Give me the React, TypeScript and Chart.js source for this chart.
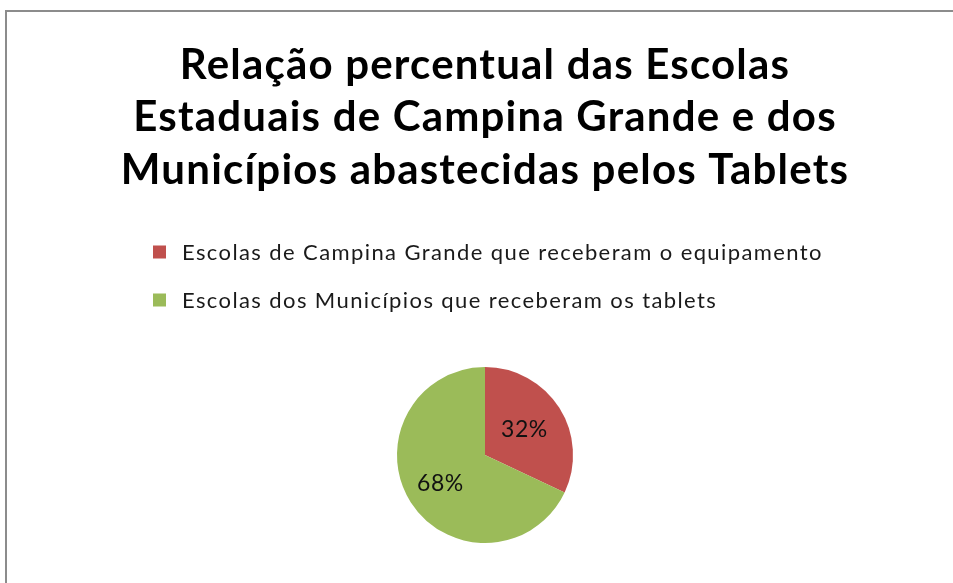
import React, { useEffect, useRef } from "react";
import { Chart, registerables } from "chart.js";

Chart.register(...registerables);

const titleLines = [
  "Relação percentual das Escolas",
  "Estaduais de Campina Grande e dos",
  "Municípios abastecidas pelos Tablets",
];
const categories = [
  "Escolas de Campina Grande que receberam o equipamento",
  "Escolas dos Municípios que receberam os tablets",
];
const percentValues = [32, 68];
const sliceColors = ["#C0504D", "#9BBB59"];
const labelRadiusFraction = [0.53, 0.6];

const FONT = "Lato, 'Open Sans', sans-serif";

const frameAndSpacingPlugin = {
  id: "frameAndSpacing",
  beforeDraw(chart: any) {
    const ctx = chart.ctx;
    ctx.save();
    ctx.fillStyle = "#ffffff";
    ctx.fillRect(0, 0, chart.width, chart.height);
    ctx.fillStyle = "#8c8c8c";
    ctx.fillRect(5, 10, 2, chart.height - 10);
    ctx.fillRect(5, 10, chart.width - 5, 2);
    ctx.restore();
    ctx.letterSpacing = "1.2px";
  },
  beforeDatasetsDraw(chart: any) {
    chart.ctx.letterSpacing = "0px";
  },
};

const legendPlugin = {
  id: "customLegend",
  afterDraw(chart: any) {
    const ctx = chart.ctx;
    const ds = chart.data.datasets[0];
    ctx.save();
    ctx.letterSpacing = "1.4px";
    ctx.font = `22px ${FONT}`;
    ctx.textBaseline = "middle";
    ctx.textAlign = "left";
    const x0 = 153;
    const y0 = 252;
    const rowGap = 48;
    (chart.data.labels as string[]).forEach((lab, i) => {
      const y = y0 + i * rowGap;
      ctx.fillStyle = ds.backgroundColor[i];
      ctx.fillRect(x0, y - 6.5, 13, 13);
      ctx.fillStyle = "#1a1a1a";
      ctx.fillText(lab, x0 + 29, y + 1);
    });
    ctx.fillStyle = "#ffffff";
    ctx.fillRect(chart.width - 18, 12, 18, chart.height - 12);
    ctx.restore();
  },
};

const sliceLabelPlugin = {
  id: "sliceLabels",
  afterDatasetsDraw(chart: any) {
    const ctx = chart.ctx;
    const meta = chart.getDatasetMeta(0);
    ctx.save();
    ctx.letterSpacing = "0.5px";
    ctx.font = `23px ${FONT}`;
    ctx.fillStyle = "#111";
    ctx.textAlign = "center";
    ctx.textBaseline = "middle";
    meta.data.forEach((arc: any, i: number) => {
      const { x, y, startAngle, endAngle, outerRadius } = arc.getProps(
        ["x", "y", "startAngle", "endAngle", "outerRadius"],
        true
      );
      const mid = (startAngle + endAngle) / 2;
      const r = outerRadius * labelRadiusFraction[i];
      ctx.fillText(
        `${percentValues[i]}%`,
        x + Math.cos(mid) * r,
        y + Math.sin(mid) * r
      );
    });
    ctx.restore();
  },
};

export default function App() {
  const ref = useRef<HTMLCanvasElement | null>(null);

  useEffect(() => {
    if (!ref.current) return;
    const chart = new Chart(ref.current, {
      type: "pie",
      data: {
        labels: categories,
        datasets: [
          {
            data: percentValues,
            backgroundColor: sliceColors,
            borderWidth: 0,
          },
        ],
      },
      options: {
        responsive: false,
        animation: false,
        devicePixelRatio: 1,
        layout: { padding: { top: 0, bottom: 40, left: 17, right: 0 } },
        plugins: {
          legend: { display: false },
          tooltip: { enabled: false },
          title: {
            display: true,
            text: titleLines,
            color: "#000",
            font: { family: FONT, size: 42, weight: "bold", lineHeight: 1.25 },
            padding: { top: 39, bottom: 170.5 },
          },
        },
      },
      plugins: [frameAndSpacingPlugin, legendPlugin, sliceLabelPlugin],
    });
    return () => chart.destroy();
  }, []);

  return (
    <div
      style={{
        position: "fixed",
        left: 0,
        top: 0,
        width: 953,
        height: 583,
        overflow: "hidden",
        background: "#fff",
      }}
    >
      <canvas
        ref={ref}
        width={953}
        height={583}
        style={{ display: "block", width: 953, height: 583 }}
      />
    </div>
  );
}
